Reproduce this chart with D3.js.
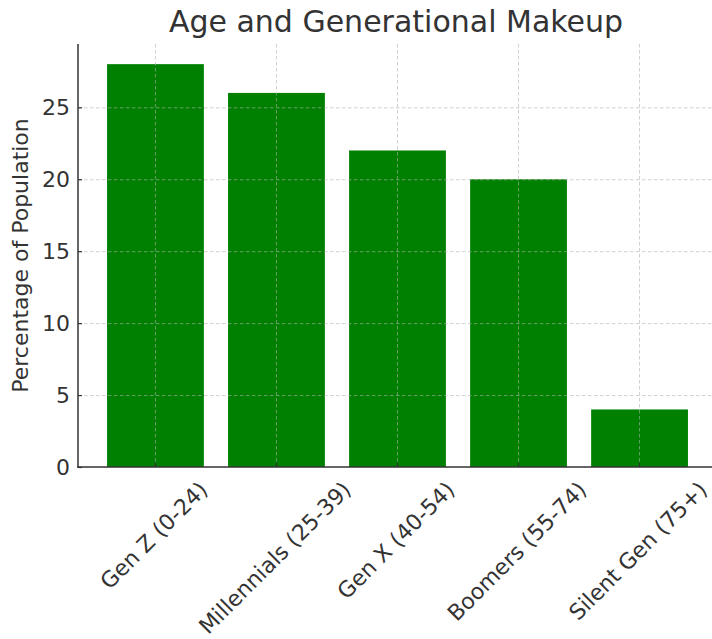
<!DOCTYPE html>
<html>
<head>
<meta charset="utf-8">
<script src="https://cdn.jsdelivr.net/npm/d3@7"></script>
<style>
  html, body { margin: 0; padding: 0; background: #fff; }
  svg { display: block; font-family: "DejaVu Sans", sans-serif; }
</style>
</head>
<body>
<svg id="chart" width="712" height="639"></svg>
<script>
// Share of population by generation
const categories = ["Gen Z (0-24)", "Millennials (25-39)", "Gen X (40-54)", "Boomers (55-74)", "Silent Gen (75+)"];
const values = [28, 26, 22, 20, 4];
const yTicks = [0, 5, 10, 15, 20, 25];

const title = "Age and Generational Makeup";
const yLabel = "Percentage of Population";

const svg = d3.select("#chart");
const plot = { left: 78, right: 717, top: 44, bottom: 467 };
const textColor = "#333333";

const x = d3.scaleBand()
  .domain(categories)
  .range([plot.left, plot.right])
  .paddingInner(0.2)
  .paddingOuter(0.24);

const y = d3.scaleLinear()
  .domain([0, d3.max(values) * 1.05])
  .range([plot.bottom, plot.top]);

// Bars
svg.append("g")
  .selectAll("rect")
  .data(values)
  .join("rect")
  .attr("x", (d, i) => x(categories[i]))
  .attr("y", d => y(d))
  .attr("width", x.bandwidth())
  .attr("height", d => y(0) - y(d))
  .attr("fill", "#008000");

// Dashed grid, drawn over the bars
const grid = svg.append("g")
  .attr("stroke", "#b0b0b0")
  .attr("stroke-opacity", 0.6)
  .attr("stroke-width", 1)
  .attr("stroke-dasharray", "3.5,2.5");

grid.selectAll("line.h")
  .data(yTicks.filter(t => t > 0))
  .join("line")
  .attr("class", "h")
  .attr("x1", plot.left).attr("x2", plot.right)
  .attr("y1", d => y(d) + 0.5).attr("y2", d => y(d) + 0.5);

grid.selectAll("line.v")
  .data(categories)
  .join("line")
  .attr("class", "v")
  .attr("x1", d => x(d) + x.bandwidth() / 2).attr("x2", d => x(d) + x.bandwidth() / 2)
  .attr("y1", plot.top).attr("y2", plot.bottom);

// Y axis
const yAxis = svg.append("g")
  .attr("transform", `translate(${plot.left},0)`)
  .call(d3.axisLeft(y).tickValues(yTicks).tickSize(-4).tickPadding(8).tickFormat(d3.format("d")));
yAxis.select(".domain").remove();
yAxis.selectAll(".tick line").attr("stroke", textColor).attr("stroke-width", 1.2);
yAxis.selectAll(".tick text")
  .attr("fill", textColor)
  .attr("font-size", 22)
  .attr("font-family", "DejaVu Sans, sans-serif");

// X axis ticks (pointing inward)
const xAxis = svg.append("g")
  .attr("transform", `translate(0,${plot.bottom})`)
  .call(d3.axisBottom(x).tickSize(-4).tickFormat(""));
xAxis.select(".domain").remove();
xAxis.selectAll(".tick line").attr("stroke", textColor).attr("stroke-width", 1.2);

// Spines
svg.append("line")
  .attr("x1", plot.left).attr("x2", plot.left)
  .attr("y1", plot.top).attr("y2", plot.bottom + 0.75)
  .attr("stroke", textColor).attr("stroke-width", 1.5);
svg.append("line")
  .attr("x1", plot.left - 0.75).attr("x2", plot.right)
  .attr("y1", plot.bottom).attr("y2", plot.bottom)
  .attr("stroke", textColor).attr("stroke-width", 1.5);

// Rotated category labels, centred under each bar
const labelTop = plot.bottom + 11;
const labelFont = 22;
svg.append("g")
  .selectAll("text")
  .data(categories)
  .join("text")
  .attr("text-anchor", "middle")
  .attr("dominant-baseline", "central")
  .attr("font-size", labelFont)
  .attr("fill", textColor)
  .text(d => d)
  .each(function(d) {
    const w = this.getComputedTextLength();
    const half = (w + labelFont * 1.0) / (2 * Math.SQRT2);
    const cx = x(d) + x.bandwidth() / 2 - 1.5;
    d3.select(this).attr("transform", `translate(${cx},${labelTop + half}) rotate(-45)`);
  });

// Y axis label
svg.append("text")
  .attr("transform", `translate(28,${(plot.top + plot.bottom) / 2}) rotate(-90)`)
  .attr("text-anchor", "middle")
  .attr("font-size", 22)
  .attr("fill", textColor)
  .text(yLabel);

// Title
svg.append("text")
  .attr("x", 396)
  .attr("y", 32)
  .attr("text-anchor", "middle")
  .attr("font-size", 30)
  .attr("fill", textColor)
  .text(title);
</script>
</body>
</html>
